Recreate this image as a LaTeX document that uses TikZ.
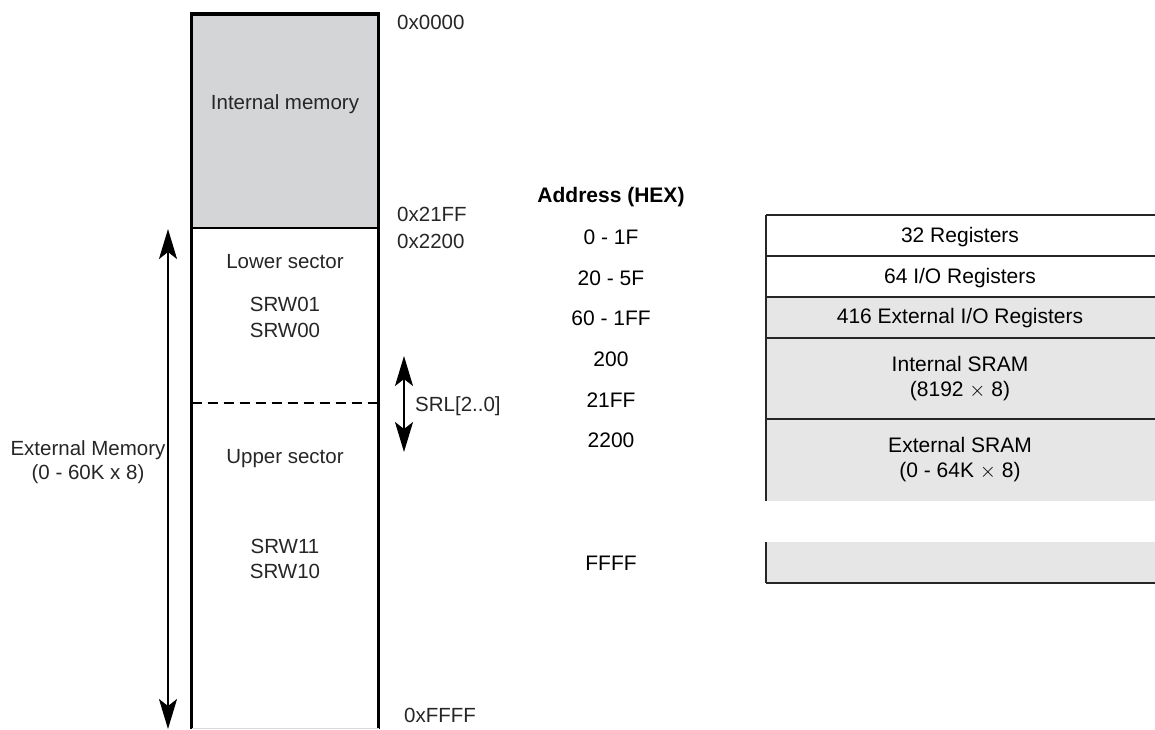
\documentclass[tikz,border=0pt]{standalone}
\usepackage{fontspec}
\setmainfont{Liberation Sans}
\usetikzlibrary{arrows.meta}
\definecolor{memgray}{HTML}{D4D5D7}
\definecolor{tabgray}{HTML}{E6E6E6}
\definecolor{txt}{HTML}{262626}
\tikzset{
  lt/.style={font=\fontsize{20.5}{24}\selectfont, text=txt, inner sep=0pt},
  rt/.style={font=\fontsize{21}{25}\selectfont, text=black, inner sep=0pt},
  ahead/.tip={Stealth[length=30pt,width=18pt,inset=7pt]},
  dbl/.style={line width=2pt, ahead-ahead},
  tline/.style={line width=1.3pt, draw=black!85},
}
\begin{document}
\begin{tikzpicture}[x=1pt,y=-1pt]
\useasboundingbox (0,0) rectangle (1155,729);
% left memory column
\fill[memgray] (191.5,14) rectangle (378.5,228);
\draw[line width=1.2pt] (191.5,228) -- (378.5,228);
\draw[line width=1.5pt, dash pattern=on 10pt off 6pt] (191.5,403) -- (378.5,403);
\draw[line width=3.5pt] (191.5,729) -- (191.5,14) -- (378.5,14) -- (378.5,729);
\draw[line width=0.8pt, draw=black!15] (191.5,728) -- (378.5,728);

\node[lt] (im) at (285,104) {Internal memory};
\node[lt] (ls) at (285,262) {Lower sector};
\node[lt] (s01) at (285,304) {SRW01};
\node[lt] (s00) at (285,330) {SRW00};
\node[lt] (us) at (285,459) {Upper sector};
\node[lt] (s11) at (285,546) {SRW11};
\node[lt] (s10) at (285,571) {SRW10};

\node[lt, anchor=west] (a0) at (397,22) {0x0000};
\node[lt, anchor=west] (a21) at (397,214) {0x21FF};
\node[lt, anchor=west] (a22) at (397,241) {0x2200};
\node[lt, anchor=west] (aff) at (404,715) {0xFFFF};

% external memory arrow
\coordinate (eT) at (168,229);
\coordinate (eB) at (168,729);
\draw[dbl] (eT) -- (eB);
\node[lt, align=center] (ext) at (88,462) {External Memory\\(0 - 60K x 8)};

% SRL arrow
\coordinate (sT) at (404,356);
\coordinate (sB) at (404,452);
\draw[dbl] (sT) -- (sB);
\node[lt, anchor=west] (srl) at (415,406) {SRL[2..0]};

% address column
\node[rt, font=\fontsize{21}{25}\selectfont\bfseries] (ah) at (611,197) {Address (HEX)};
\node[rt] (r1) at (611,237) {0 - 1F};
\node[rt] (r2) at (611,278) {20 - 5F};
\node[rt] (r3) at (611,318) {60 - 1FF};
\node[rt] (r4) at (611,359) {200};
\node[rt] (r5) at (611,400) {21FF};
\node[rt] (r6) at (611,440) {2200};
\node[rt] (r7) at (611,563) {FFFF};

% right table
\fill[tabgray] (766,297) rectangle (1155,501);
\fill[tabgray] (766,542) rectangle (1155,583);
\foreach \y in {215,256,297,338,419,583}
  \draw[tline] (766,\y) -- (1155,\y);
\draw[tline] (766,215) -- (766,501);
\draw[tline] (766,542) -- (766,583);

\node[rt] (t1) at (960,237) {32 Registers};
\node[rt] (t2) at (960,278) {64 I/O Registers};
\node[rt] (t3) at (960,318) {416 External I/O Registers};
\node[rt, align=center] (t4) at (960,379) {Internal SRAM\\(8192 $\times$ 8)};
\node[rt, align=center] (t5) at (960,460) {External SRAM\\(0 - 64K $\times$ 8)};
\end{tikzpicture}
\end{document}
